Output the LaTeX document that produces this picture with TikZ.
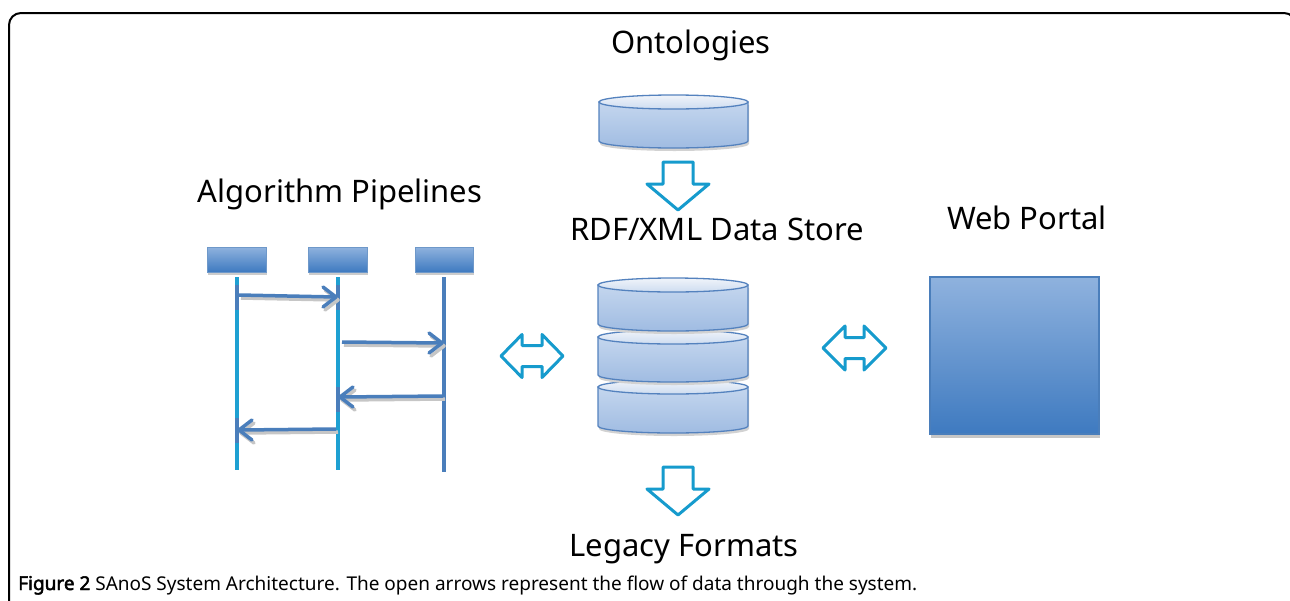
\documentclass[tikz,border=0pt]{standalone}
\usepackage{fontspec}
\setmainfont{Noto Sans}
\newfontfamily\fbold{Noto Sans}[FakeBold=2.5]
\usetikzlibrary{arrows.meta}
\definecolor{cylline}{RGB}{84,130,190}
\definecolor{cyltop}{RGB}{196,214,238}
\definecolor{cylbot}{RGB}{160,188,226}
\definecolor{lidtop}{RGB}{240,244,250}
\definecolor{lidbot}{RGB}{205,220,240}
\definecolor{acyan}{RGB}{22,155,205}
\definecolor{steel}{RGB}{74,126,187}
\definecolor{boxtop}{RGB}{143,178,222}
\definecolor{boxbot}{RGB}{62,122,192}
\definecolor{lifecyan}{RGB}{30,160,210}
\newcommand\dbcyl[4]{%
  \fill[gray!35] (#1+1,#3+3) -- (#1+1,#4+3) arc[start angle=180,end angle=0,x radius={(#2-#1)/2},y radius=7] -- (#2+1,#3+3) -- cycle;
  \path[draw=cylline,line width=1.3pt,top color=cyltop,bottom color=cylbot]
    (#1,#3) -- (#1,#4) arc[start angle=180,end angle=0,x radius={(#2-#1)/2},y radius=7] -- (#2,#3) -- cycle;
  \path[draw=cylline,line width=1.3pt,top color=lidtop,bottom color=lidbot]
    ({(#1+#2)/2},#3) ellipse[x radius={(#2-#1)/2},y radius=7];
}
% message: from, to, direction (1 = right, -1 = left), colour, shift x, shift y
\newcommand\seqmsg[6]{%
  \draw[#4,line width=3.5pt] ([shift={(#5,#6)}]#1) -- ([shift={(#5,#6)}]#2);
  \draw[#4,line width=3.5pt,line join=round,line cap=round]
    ([shift={(#5-#3*13,#6-10)}]#2) -- ([shift={(#5,#6)}]#2) -- ([shift={(#5-#3*13,#6+10)}]#2);
}
\tikzset{
  lbl/.style={font=\fontsize{31}{36}\selectfont,anchor=base,inner sep=0pt},
  blockarrow/.style={draw=acyan,line width=3pt,fill=white,line join=round},
  hdr/.style={draw=steel!80,line width=0.6pt,top color=boxtop,bottom color=boxbot},
  life/.style={line width=3.5pt},
}
\begin{document}
\begin{tikzpicture}[x=1pt,y=-1pt]
\useasboundingbox (0,0) rectangle (1290,600);
\begin{scope}
\clip (0,0) rectangle (1290,600);
\draw[line width=2pt,rounded corners=12pt] (9,620) -- (9,13) -- (1296,13) -- (1296,620);
\end{scope}

% labels
\node[lbl] (ont) at (691,53) {Ontologies};
\node[lbl] (alg) at (340,202) {Algorithm Pipelines};
\node[lbl] (rdf) at (717,240) {RDF/XML Data Store};
\node[lbl] (web) at (1027,229) {Web Portal};
\node[lbl] (leg) at (684,556) {Legacy Formats};
\node[anchor=base west,inner sep=0pt,font=\fontsize{19}{22}\selectfont] (cap) at (18,590)
  {{\fbold Figure 2} SAnoS System Architecture. The open arrows represent the flow of data through the system.};

% ontology cylinder
\dbcyl{599}{748}{102}{141}
% data store stack
\dbcyl{598}{748}{387}{426}
\dbcyl{598}{748}{337}{375}
\dbcyl{598}{748}{285}{324}

% block arrows
\draw[blockarrow] (663,162) -- (693,162) -- (693,184) -- (709,184) -- (678,210) -- (647,184) -- (663,184) -- cycle;
\draw[blockarrow] (663,467) -- (693,467) -- (693,489) -- (709,489) -- (678,515) -- (647,489) -- (663,489) -- cycle;
\draw[blockarrow] (501,356) -- (522,334.5) -- (522,345.5) -- (542,345.5) -- (542,334.5) -- (563,356) -- (542,377.5) -- (542,366.5) -- (522,366.5) -- (522,377.5) -- cycle;
\draw[blockarrow] (823,348) -- (845,326) -- (845,337.5) -- (864,337.5) -- (864,326) -- (886,348) -- (864,370) -- (864,358.5) -- (845,358.5) -- (845,370) -- cycle;

% web portal
\fill[gray!45] (931,434) rectangle (1100,438);
\path[draw=steel,line width=1.2pt,top color=boxtop,bottom color=boxbot] (930,277) rectangle (1099,434);

% sequence diagram headers
\foreach \a/\b in {207/266,308/367,415/473}{
  \fill[gray!40] (\a+1,272) rectangle (\b+1,275);
  \path[hdr] (\a,247) rectangle (\b,272);
}
% lifelines
\coordinate (l1t) at (237,277); \coordinate (l1b) at (237,470);
\coordinate (l2t) at (338,277); \coordinate (l2b) at (338,470);
\coordinate (l3t) at (444,277); \coordinate (l3b) at (444,472);
\draw[life,lifecyan] (l1t) -- (l1b);
\draw[life,lifecyan] (l2t) -- (l2b);
\draw[life,steel] (l3t) -- (l3b);
% activation segments
\draw[line width=4.5pt,steel] (237,285) -- (237,310);
\draw[line width=4.5pt,steel] (237,418) -- (237,443);
\draw[line width=4.5pt,steel] (338,285) -- (338,310);
\draw[line width=4.5pt,steel] (338,387) -- (338,412);
\draw[line width=4.5pt,steel] (444,330) -- (444,355);

% messages
\coordinate (m1a) at (239,295); \coordinate (m1b) at (336,297);
\coordinate (m2a) at (342,342); \coordinate (m2b) at (442,343);
\coordinate (m3a) at (443,396); \coordinate (m3b) at (340,397);
\coordinate (m4a) at (336,429); \coordinate (m4b) at (239,430);
\seqmsg{m1a}{m1b}{1}{gray!45}{2}{3}
\seqmsg{m2a}{m2b}{1}{gray!45}{2}{3}
\seqmsg{m3a}{m3b}{-1}{gray!45}{2}{3}
\seqmsg{m4a}{m4b}{-1}{gray!45}{2}{3}
\seqmsg{m1a}{m1b}{1}{steel}{0}{0}
\seqmsg{m2a}{m2b}{1}{steel}{0}{0}
\seqmsg{m3a}{m3b}{-1}{steel}{0}{0}
\seqmsg{m4a}{m4b}{-1}{steel}{0}{0}
\end{tikzpicture}
\end{document}
